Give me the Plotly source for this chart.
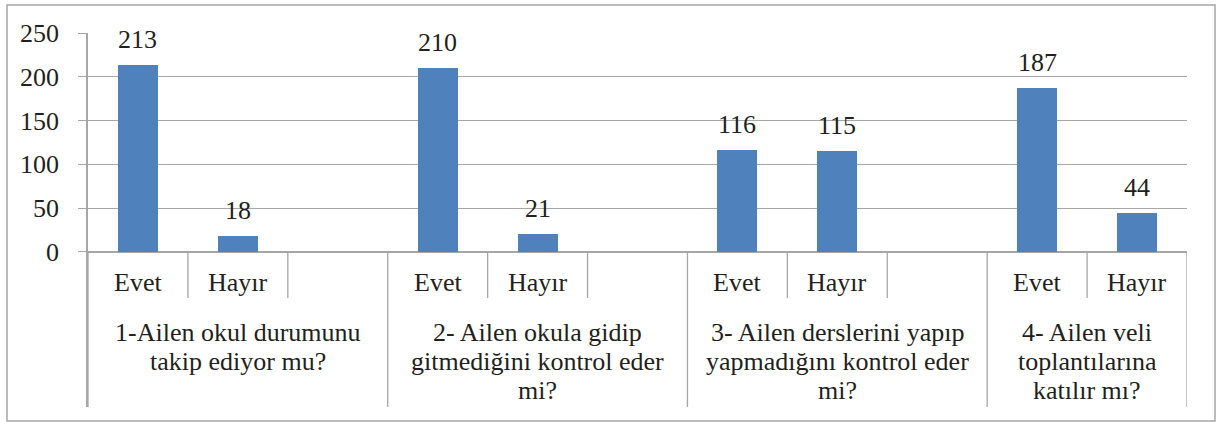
import plotly.graph_objects as go

# ---- data ----
group_lines = [
    ["1-Ailen okul durumunu", "takip ediyor mu?"],
    ["2- Ailen okula gidip", "gitmediğini kontrol eder", "mi?"],
    ["3- Ailen derslerini yapıp", "yapmadığını kontrol eder", "mi?"],
    ["4- Ailen veli", "toplantılarına", "katılır mı?"],
]
answers = ["Evet", "Hayır"]
evet = [213, 210, 116, 187]
hayir = [18, 21, 115, 44]
slots = [3, 3, 3, 2]          # category slots per group (Excel leaves a blank slot)
y_ticks = [0, 50, 100, 150, 200, 250]

# ---- style / layout constants ----
FONT = "Liberation Serif"
TXT = "#231F20"
GRID = "#A6A6A6"
BAR = "#4F81BD"
FS = 26
Y_MIN = -177          # extends axis downward to host the category labels
INNER_BOTTOM = -52.5
SUB_Y = -35.4
GROUP_Y0 = -92.5
GROUP_DY = 33.1

starts = []
s = 0
for n in slots:
    starts.append(s)
    s += n
total = s

xs, ys, labs = [], [], []
for g, st in enumerate(starts):
    xs += [st + 0.5, st + 1.5]
    ys += [evet[g], hayir[g]]
    labs += answers

fig = go.Figure()
fig.add_trace(go.Bar(x=xs, y=ys, width=0.4, marker=dict(color=BAR, line=dict(width=0)),
                     hoverinfo="skip", showlegend=False))

shapes = []
annotations = []
line_style = dict(color=GRID, width=1.3)
# group dividers
for st in starts + [total]:
    shapes.append(dict(type="line", xref="x", yref="y", x0=st, x1=st, y0=0, y1=Y_MIN, line=line_style))
# inner dividers
for g, st in enumerate(starts):
    for k in range(1, slots[g]):
        shapes.append(dict(type="line", xref="x", yref="y", x0=st + k, x1=st + k, y0=0,
                           y1=INNER_BOTTOM, line=line_style))
# outer border
shapes.append(dict(type="rect", xref="paper", yref="paper", x0=-0.0737, x1=1.0255,
                   y0=-0.0374, y1=1.0749, line=dict(color=GRID, width=1.5)))

for x, y, l in zip(xs, ys, labs):
    annotations.append(dict(x=x, y=y, text=str(y), showarrow=False, yanchor="bottom",
                            yshift=9, font=dict(family=FONT, size=FS, color=TXT)))
    annotations.append(dict(x=x, y=SUB_Y, text=l, showarrow=False, yanchor="middle",
                            font=dict(family=FONT, size=FS, color=TXT)))
for g, st in enumerate(starts):
    cx = st + slots[g] / 2
    for i, line in enumerate(group_lines[g]):
        annotations.append(dict(x=cx, y=GROUP_Y0 - i * GROUP_DY, text=line, showarrow=False,
                                yanchor="middle", font=dict(family=FONT, size=FS, color=TXT)))

fig.update_layout(
    width=1216, height=422,
    margin=dict(l=88, r=29, t=33, b=15),
    paper_bgcolor="white", plot_bgcolor="white",
    font=dict(family=FONT, size=FS, color=TXT),
    shapes=shapes, annotations=annotations,
    bargap=0,
    xaxis=dict(range=[0, total], showgrid=False, zeroline=False, showticklabels=False,
               showline=False, ticks="", fixedrange=True),
    yaxis=dict(range=[Y_MIN, 250], tickvals=y_ticks, ticktext=[str(v) for v in y_ticks],
               showgrid=True, gridcolor=GRID, gridwidth=1.3,
               zeroline=True, zerolinecolor=GRID, zerolinewidth=1.5,
               showline=True, linecolor=GRID, linewidth=1.5,
               ticks="outside", ticklen=8, tickcolor=GRID, tickwidth=1.3,
               ticklabelstandoff=14,
               tickfont=dict(family=FONT, size=FS, color=TXT), fixedrange=True),
)

fig.write_html("out.html", config={"displayModeBar": False},
               post_script="document.body.style.margin='0';document.body.style.overflow='hidden';")
